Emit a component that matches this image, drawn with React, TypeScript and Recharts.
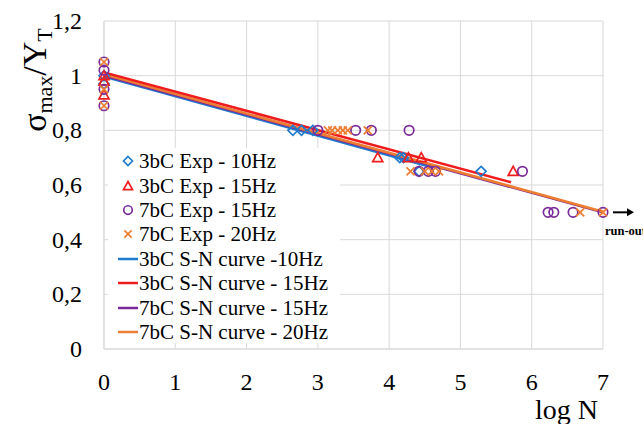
import React from "react";
import {
  ComposedChart,
  XAxis,
  YAxis,
  CartesianGrid,
  Scatter,
  Line,
} from "recharts";

const xTicks = [0, 1, 2, 3, 4, 5, 6, 7];
const yTicks = [0, 0.2, 0.4, 0.6, 0.8, 1, 1.2];

const exp3bC10 = [
  { x: 0, y: 1.0 }, { x: 0, y: 0.97 },
  { x: 2.65, y: 0.8 }, { x: 2.77, y: 0.8 }, { x: 2.93, y: 0.8 },
  { x: 4.15, y: 0.7 }, { x: 4.2, y: 0.7 }, { x: 4.42, y: 0.65 },
  { x: 5.29, y: 0.65 },
];
const exp3bC15 = [
  { x: 0, y: 1.0 }, { x: 0, y: 0.98 }, { x: 0, y: 0.93 },
  { x: 3.84, y: 0.7 }, { x: 4.27, y: 0.7 }, { x: 4.45, y: 0.7 },
  { x: 5.74, y: 0.65 },
];
const exp7bC15 = [
  { x: 0, y: 1.05 }, { x: 0, y: 1.02 }, { x: 0, y: 0.95 }, { x: 0, y: 0.89 },
  { x: 3.0, y: 0.8 }, { x: 3.53, y: 0.8 }, { x: 3.75, y: 0.8 }, { x: 4.28, y: 0.8 },
  { x: 4.42, y: 0.65 }, { x: 4.55, y: 0.65 }, { x: 4.65, y: 0.65 },
  { x: 5.87, y: 0.65 },
  { x: 6.23, y: 0.5 }, { x: 6.31, y: 0.5 }, { x: 6.58, y: 0.5 }, { x: 7.0, y: 0.5 },
];
const exp7bC20 = [
  { x: 0, y: 1.05 }, { x: 0, y: 0.95 }, { x: 0, y: 0.89 },
  { x: 3.14, y: 0.8 }, { x: 3.2, y: 0.8 }, { x: 3.28, y: 0.8 }, { x: 3.35, y: 0.8 },
  { x: 3.42, y: 0.8 }, { x: 3.7, y: 0.8 },
  { x: 4.3, y: 0.65 }, { x: 4.5, y: 0.65 }, { x: 4.6, y: 0.65 }, { x: 4.7, y: 0.65 },
  { x: 6.68, y: 0.5 }, { x: 7.0, y: 0.5 },
];

const sn3bC10 = [{ x: 0, y: 0.997 }, { x: 4.6, y: 0.665 }];
const sn3bC15 = [{ x: 0, y: 1.012 }, { x: 5.71, y: 0.61 }];
const sn7bC15 = [{ x: 0, y: 1.0 }, { x: 7, y: 0.5 }];
const sn7bC20 = [{ x: 0, y: 1.005 }, { x: 7, y: 0.502 }];
const runOut = [{ x: 7, y: 0.5 }];

const BLUE = "#1f7ccf";
const RED = "#ee1c1c";
const PURPLE = "#7a2a9a";
const ORANGE = "#ed7d31";
const FONT = "Liberation Serif, Times New Roman, serif";

const legendItems = [
  { label: "3bC Exp - 10Hz", kind: "diamond", color: BLUE },
  { label: "3bC Exp - 15Hz", kind: "triangle", color: RED },
  { label: "7bC Exp - 15Hz", kind: "circle", color: PURPLE },
  { label: "7bC Exp - 20Hz", kind: "cross", color: ORANGE },
  { label: "3bC S-N curve -10Hz", kind: "line", color: BLUE },
  { label: "3bC S-N curve - 15Hz", kind: "line", color: RED },
  { label: "7bC S-N curve - 15Hz", kind: "line", color: PURPLE },
  { label: "7bC S-N curve - 20Hz", kind: "line", color: ORANGE },
];

function Marker({ kind, cx, cy, color, s = 5 }: any) {
  if (cx == null || cy == null) return null;
  const sw = 1.7;
  if (kind === "diamond")
    return (
      <polygon
        points={`${cx},${cy - s} ${cx + s},${cy} ${cx},${cy + s} ${cx - s},${cy}`}
        fill="none" stroke={color} strokeWidth={sw}
      />
    );
  if (kind === "triangle")
    return (
      <polygon
        points={`${cx},${cy - s} ${cx + s},${cy + s * 0.8} ${cx - s},${cy + s * 0.8}`}
        fill="none" stroke={color} strokeWidth={sw}
      />
    );
  if (kind === "circle")
    return <circle cx={cx} cy={cy} r={s * 0.95} fill="none" stroke={color} strokeWidth={sw} />;
  if (kind === "cross") {
    const d = s * 0.8;
    return (
      <g stroke={color} strokeWidth={sw}>
        <line x1={cx - d} y1={cy - d} x2={cx + d} y2={cy + d} />
        <line x1={cx - d} y1={cy + d} x2={cx + d} y2={cy - d} />
      </g>
    );
  }
  if (kind === "line")
    return <line x1={cx - 10} y1={cy} x2={cx + 10} y2={cy} stroke={color} strokeWidth={2.5} />;
  return null;
}

function CustomLegend() {
  return (
    <div
      style={{
        position: "absolute",
        left: 108,
        top: 148,
        background: "#fff",
        width: 232,
        height: 195,
        paddingTop: 1,
        fontFamily: FONT,
        fontSize: 21,
        color: "#000",
        boxSizing: "border-box",
      }}
    >
      {legendItems.map((it) => (
        <div key={it.label} style={{ display: "flex", alignItems: "center", height: 24.4, whiteSpace: "nowrap" }}>
          <svg width={31} height={20} style={{ flex: "none" }}>
            <Marker kind={it.kind} cx={20} cy={10} color={it.color} s={4.5} />
          </svg>
          <span style={{ lineHeight: "24px" }}>{it.label}</span>
        </div>
      ))}
    </div>
  );
}

function RunOut(props: any) {
  const { cx, cy } = props;
  if (cx == null) return null;
  return (
    <g>
      <line x1={cx + 10} y1={cy} x2={cx + 26} y2={cy} stroke="#000" strokeWidth={2} />
      <polygon points={`${cx + 31},${cy} ${cx + 24},${cy - 4} ${cx + 24},${cy + 4}`} fill="#000" />
      <text x={cx + 2} y={cy + 23} fontFamily={FONT} fontWeight="bold" fontSize={12.5} fill="#000">
        run-out
      </text>
    </g>
  );
}

const fmt = (v: number) =>
  Number.isInteger(v) ? String(v) : String(Math.round(v * 10) / 10).replace(".", ",");

function YTick(props: any) {
  const { y, payload } = props;
  return (
    <text x={82} y={y} dy={8} textAnchor="end" fontFamily={FONT} fontSize={24} fill="#000">
      {fmt(payload.value)}
    </text>
  );
}

function YLabel() {
  return (
    <text
      transform="translate(46,80) rotate(-90)"
      textAnchor="middle"
      fontFamily={FONT}
      fill="#000"
      fontSize={34}
    >
      <tspan>σ</tspan>
      <tspan fontSize={22} dy={6}>max</tspan>
      <tspan dy={-6}>/Y</tspan>
      <tspan fontSize={22} dy={6}>T</tspan>
    </text>
  );
}

export default function App() {
  return (
    <div style={{ position: "absolute", left: 0, top: 0, width: 643, height: 424, background: "#fff" }}>
      <ComposedChart width={643} height={424} margin={{ top: 21, right: 40, bottom: 0, left: 0 }}>
        <CartesianGrid stroke="#d9d9d9" strokeWidth={1} />
        <XAxis
          type="number"
          dataKey="x"
          domain={[0, 7]}
          ticks={xTicks}
          tickFormatter={fmt}
          height={75}
          axisLine={{ stroke: "#d9d9d9" }}
          tickLine={false}
          tickMargin={18}
          tick={{ fontFamily: FONT, fontSize: 24, fill: "#000" }}
          label={{
            value: "log N",
            position: "insideBottomRight",
            offset: 5,
            style: { fontFamily: FONT, fontSize: 28, fill: "#000" },
          }}
        />
        <YAxis
          type="number"
          dataKey="y"
          domain={[0, 1.2]}
          ticks={yTicks}
          width={104}
          axisLine={{ stroke: "#d9d9d9" }}
          tickLine={false}
          tick={<YTick />}
          label={{ content: () => <YLabel /> }}
        />
        <Scatter data={exp3bC10} isAnimationActive={false} shape={(p: any) => <Marker kind="diamond" cx={p.cx} cy={p.cy} color={BLUE} />} />
        <Scatter data={exp3bC15} isAnimationActive={false} shape={(p: any) => <Marker kind="triangle" cx={p.cx} cy={p.cy} color={RED} />} />
        <Scatter data={exp7bC15} isAnimationActive={false} shape={(p: any) => <Marker kind="circle" cx={p.cx} cy={p.cy} color={PURPLE} />} />
        <Scatter data={exp7bC20} isAnimationActive={false} shape={(p: any) => <Marker kind="cross" cx={p.cx} cy={p.cy} color={ORANGE} />} />
        <Line data={sn3bC10} dataKey="y" type="linear" stroke={BLUE} strokeWidth={2.5} dot={false} isAnimationActive={false} />
        <Line data={sn7bC15} dataKey="y" type="linear" stroke={PURPLE} strokeWidth={2.5} dot={false} isAnimationActive={false} />
        <Line data={sn7bC20} dataKey="y" type="linear" stroke={ORANGE} strokeWidth={2.5} dot={false} isAnimationActive={false} />
        <Line data={sn3bC15} dataKey="y" type="linear" stroke={RED} strokeWidth={2.5} dot={false} isAnimationActive={false} />
        <Scatter data={runOut} isAnimationActive={false} shape={(p: any) => <RunOut cx={p.cx} cy={p.cy} />} />
      </ComposedChart>
      <CustomLegend />
    </div>
  );
}
